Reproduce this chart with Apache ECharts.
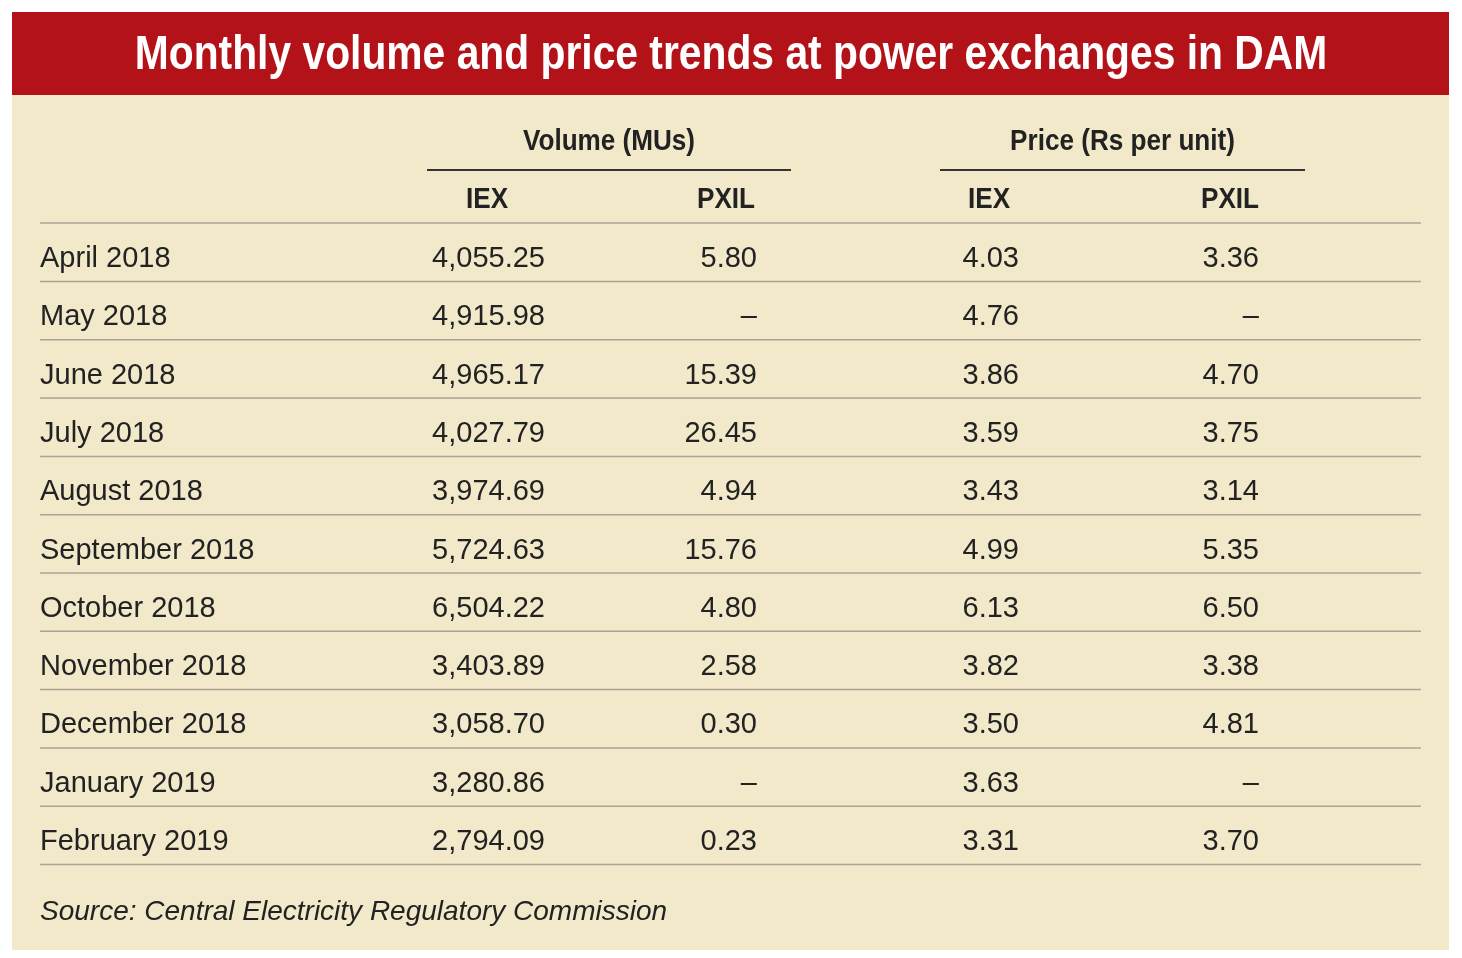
<!DOCTYPE html>
<html>
<head>
<meta charset="UTF-8">
<title>DAM table</title>
<script src="https://cdn.jsdelivr.net/npm/echarts@6/dist/echarts.min.js"></script>
<style>html,body{margin:0;padding:0;background:#fff}#main{width:1462px;height:958px}</style>
</head>
<body>
<div id="main"></div>
<script>
var titleText = 'Monthly volume and price trends at power exchanges in DAM';
var months = ['April 2018','May 2018','June 2018','July 2018','August 2018','September 2018','October 2018','November 2018','December 2018','January 2019','February 2019'];
var volIEX = ['4,055.25','4,915.98','4,965.17','4,027.79','3,974.69','5,724.63','6,504.22','3,403.89','3,058.70','3,280.86','2,794.09'];
var volPXIL = ['5.80','–','15.39','26.45','4.94','15.76','4.80','2.58','0.30','–','0.23'];
var priceIEX = ['4.03','4.76','3.86','3.59','3.43','4.99','6.13','3.82','3.50','3.63','3.31'];
var pricePXIL = ['3.36','–','4.70','3.75','3.14','5.35','6.50','3.38','4.81','–','3.70'];
var groupHeads = ['Volume (MUs)', 'Price (Rs per unit)'];
var subHeads = ['IEX', 'PXIL', 'IEX', 'PXIL'];
var source = 'Source: Central Electricity Regulatory Commission';

var chart = echarts.init(document.getElementById('main'));
var font = '"Liberation Sans", Arial, sans-serif';
var els = [];
// background
els.push({type:'rect', shape:{x:12,y:12,width:1437,height:938}, style:{fill:'#f1e9c9'}});
els.push({type:'rect', shape:{x:12,y:12,width:1437,height:83}, style:{fill:'#b31218'}});
// condensed look: squeeze the bold title horizontally
els.push({type:'text', x:731, y:56, scaleX:0.85, style:{text:titleText, fill:'#fff', font:'bold 48px ' + font, align:'center', verticalAlign:'middle'}});
// group heads
var groupX = [[427,791],[940,1305]];
groupHeads.forEach(function(g, i) {
  var a = groupX[i];
  els.push({type:'text', x:(a[0]+a[1])/2, y:142, scaleX:0.9, style:{text:g, fill:'#222', font:'bold 29px ' + font, align:'center', verticalAlign:'middle'}});
  els.push({type:'line', shape:{x1:a[0],y1:170,x2:a[1],y2:170}, style:{stroke:'#333', lineWidth:2}});
});
var subX = [487, 726, 989, 1230];
subHeads.forEach(function(s, i) {
  els.push({type:'text', x:subX[i], y:200, scaleX:0.9, style:{text:s, fill:'#222', font:'bold 29px ' + font, align:'center', verticalAlign:'middle'}});
});
els.push({type:'line', shape:{x1:40,y1:223,x2:1421,y2:223}, style:{stroke:'#a9a596', lineWidth:1.5}});
var rowH = 58.3, y0 = 259;
var cols = [volIEX, volPXIL, priceIEX, pricePXIL];
var colRight = [545, 757, 1019, 1259];
months.forEach(function(m, r) {
  var y = y0 + r * rowH;
  els.push({type:'text', x:40, y:y, style:{text:m, fill:'#222', font:'29px ' + font, align:'left', verticalAlign:'middle'}});
  cols.forEach(function(c, j) {
    els.push({type:'text', x:colRight[j], y:y, style:{text:c[r], fill:'#222', font:'29px ' + font, align:'right', verticalAlign:'middle'}});
  });
  var ly = y + 22.5;
  els.push({type:'line', shape:{x1:40,y1:ly,x2:1421,y2:ly}, style:{stroke:'#a9a596', lineWidth:1.5}});
});
els.push({type:'text', x:40, y:912, style:{text:source, fill:'#222', font:'italic 28px ' + font, align:'left', verticalAlign:'middle'}});

chart.setOption({animation:false, graphic:{elements:els}});
</script>
</body>
</html>
